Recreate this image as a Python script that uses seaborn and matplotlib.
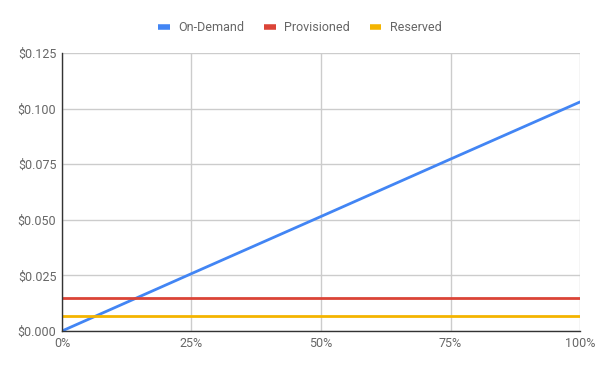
import pandas as pd
import numpy as np
import matplotlib
matplotlib.use('Agg')
import matplotlib.pyplot as plt
import seaborn as sns
from matplotlib.ticker import FuncFormatter

# Chart data
usage = [0.0, 0.25, 0.50, 0.75, 1.0]
on_demand = [0.0, 0.0258, 0.0515, 0.0773, 0.1030]
provisioned = [0.0148, 0.0148, 0.0148, 0.0148, 0.0148]
reserved = [0.0067, 0.0067, 0.0067, 0.0067, 0.0067]
series_names = ['On-Demand', 'Provisioned', 'Reserved']
colors = ['#4285f4', '#db4437', '#f4b400']

df = pd.DataFrame({
    'usage': usage * 3,
    'cost': on_demand + provisioned + reserved,
    'series': [s for s in series_names for _ in usage],
})

sns.set_style('white')
plt.rcParams['font.family'] = ['Roboto', 'DejaVu Sans']

fig = plt.figure(figsize=(6, 3.71), dpi=100)
ax = fig.add_axes([0.1033, 0.1078, 0.8634, 0.7493])

sns.lineplot(data=df, x='usage', y='cost', hue='series', palette=colors,
             linewidth=2, ax=ax, legend=False)

ax.set_xlim(0, 1)
ax.set_ylim(0, 0.125)
ax.set_xticks([0, 0.25, 0.5, 0.75, 1.0])
ax.set_yticks([0, 0.025, 0.05, 0.075, 0.1, 0.125])
ax.xaxis.set_major_formatter(FuncFormatter(lambda v, p: f'{v*100:.0f}%'))
ax.yaxis.set_major_formatter(FuncFormatter(lambda v, p: f'${v:.3f}'))
ax.grid(True, color='#cccccc', linewidth=1)
ax.set_axisbelow(True)
ax.set_xlabel('')
ax.set_ylabel('')
ax.tick_params(length=0, labelsize=9, colors='#666666', pad=4)
for side in ['top', 'right']:
    ax.spines[side].set_visible(False)
for side in ['left', 'bottom']:
    ax.spines[side].set_color('#333333')
    ax.spines[side].set_linewidth(1)

handles = [plt.Line2D([0], [0], color=c, linewidth=4, solid_capstyle='butt')
           for c in colors]
fig.legend(handles, series_names, loc='center', bbox_to_anchor=(0.5, 0.926),
           ncol=3, frameon=False, fontsize=9, handlelength=0.9,
           columnspacing=1.6, handletextpad=0.7, labelcolor='#666666')

fig.savefig('out.png', dpi=100)
